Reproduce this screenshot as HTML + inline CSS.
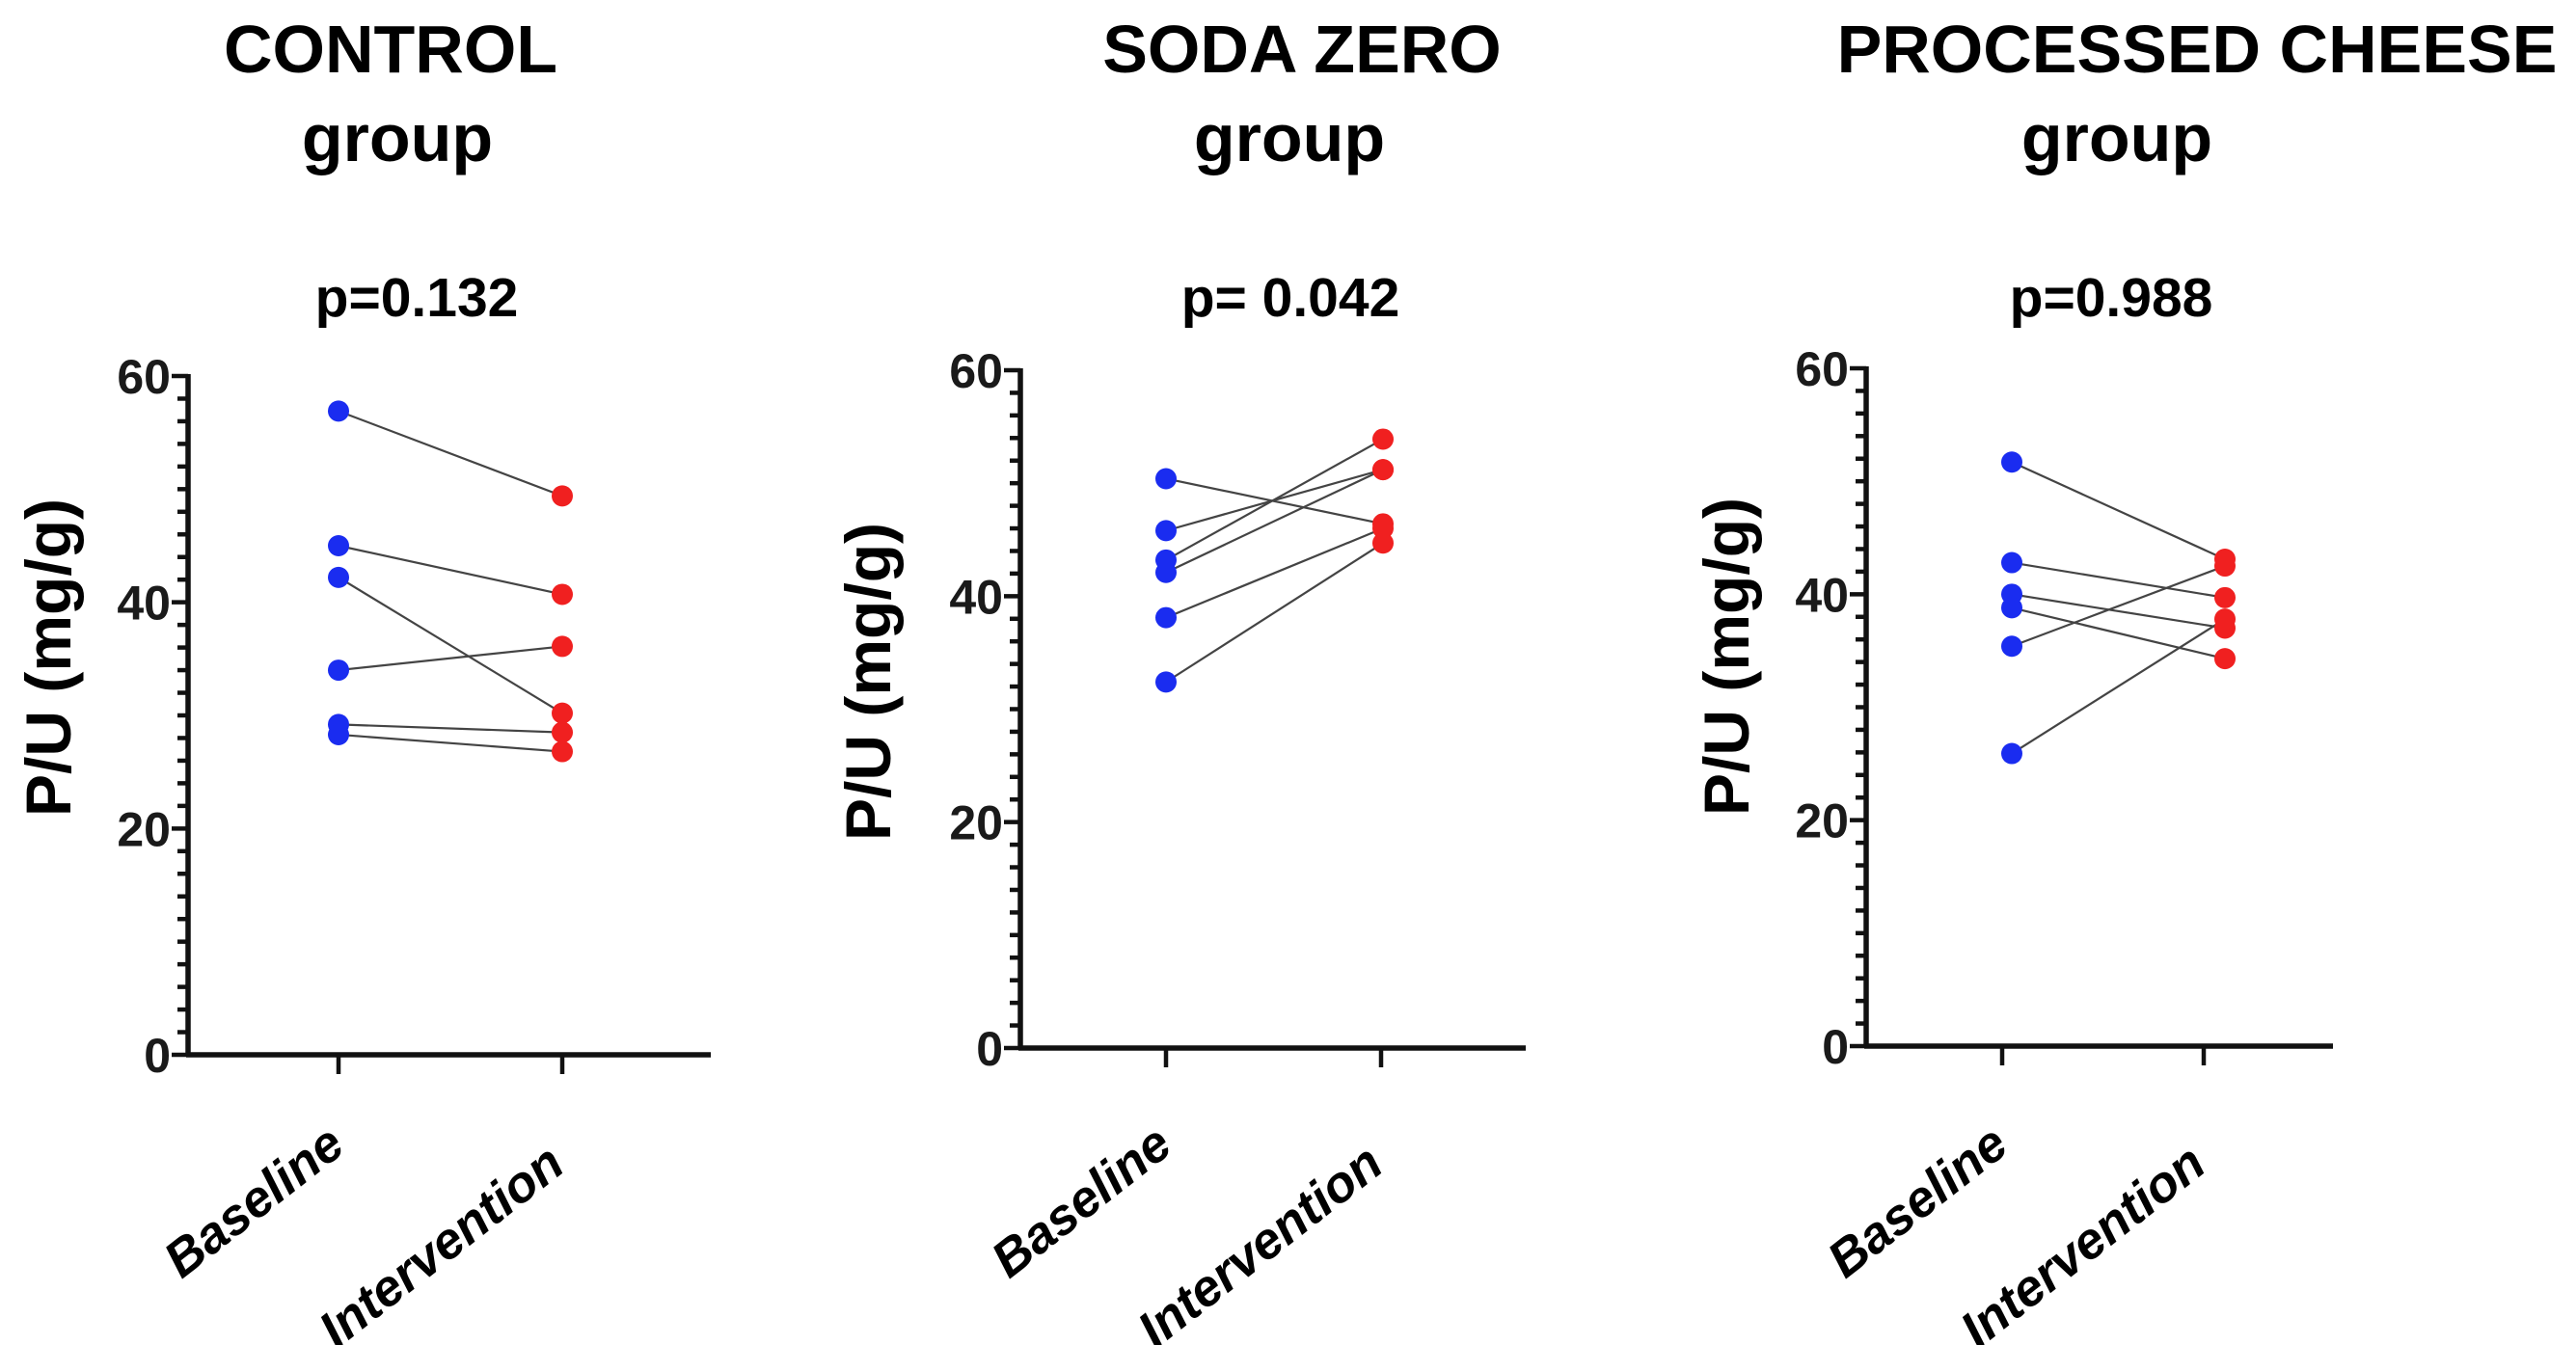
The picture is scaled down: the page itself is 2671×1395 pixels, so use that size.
<!DOCTYPE html>
<html><head><meta charset="utf-8">
<style>
html,body{margin:0;padding:0;background:#fff;}
svg{display:block;}
text{font-family:"Liberation Sans",Arial,sans-serif;}
</style></head>
<body>
<svg id="fig" width="2671" height="1395" viewBox="0 0 2671 1395" xmlns="http://www.w3.org/2000/svg"></svg>
<script>
// ---- data ----
const groups = ["CONTROL", "SODA ZERO", "PROCESSED CHEESE"];
const pValues = ["p=0.132", "p= 0.042", "p=0.988"];
const categories = ["Baseline", "Intervention"];
const yTicks = [0, 20, 40, 60];
const controlBaseline = [56.9, 45.0, 42.2, 34.0, 29.2, 28.3];
const controlIntervention = [49.4, 40.7, 30.2, 36.1, 28.5, 26.8];
const sodaBaseline = [50.4, 45.8, 43.2, 42.1, 38.1, 32.4];
const sodaIntervention = [46.4, 51.2, 53.9, 51.2, 46.0, 44.7];
const cheeseBaseline = [51.7, 42.8, 40.0, 38.8, 35.4, 25.9];
const cheeseIntervention = [43.1, 39.7, 37.0, 34.3, 42.5, 37.8];

// ---- layout ----
const NS = "http://www.w3.org/2000/svg";
const svg = document.getElementById("fig");
const panels = [
  {ax:195, axEnd:737, y0:1094, y60:390, xB:351, xI:583, tB:351, tI:583, titleX:405, groupX:412, pX:432, ylabX:50, ylabY:682, base:controlBaseline, inter:controlIntervention},
  {ax:1058, axEnd:1582, y0:1087, y60:384, xB:1209, xI:1434, tB:1209, tI:1432, titleX:1350, groupX:1337, pX:1338, ylabX:900, ylabY:707, base:sodaBaseline, inter:sodaIntervention},
  {ax:1935, axEnd:2419, y0:1085, y60:382, xB:2086, xI:2307, tB:2076, tI:2285, titleX:2278, groupX:2195, pX:2189, ylabX:1790, ylabY:681, base:cheeseBaseline, inter:cheeseIntervention}
];
function mk(tag, attrs, parent){
  const e = document.createElementNS(NS, tag);
  for (const k in attrs) e.setAttribute(k, attrs[k]);
  (parent||svg).appendChild(e);
  return e;
}

panels.forEach((p, i) => {
  const g = mk("g", {});
  
  
  const yScale = v => p.y0 - (v/60)*(p.y0 - p.y60);

  let t = mk("text", {x:p.titleX, y:75, "text-anchor":"middle", "font-size":70, "font-weight":"bold", fill:"#000"}, g);
  t.textContent = groups[i];
  
  
  t = mk("text", {x:p.groupX, y:167, "text-anchor":"middle", "font-size":70, "font-weight":"bold", fill:"#000"}, g);
  t.textContent = "group";
  
  
  t = mk("text", {x:p.pX, y:328, "text-anchor":"middle", "font-size":57, "font-weight":"bold", fill:"#000"}, g);
  t.textContent = pValues[i];
  
  

  // y axis
  let l = mk("line", {x1:p.ax, y1:p.y60-2, x2:p.ax, y2:p.y0+2, stroke:"#111", "stroke-width":5.5}, g);
  
  
  for (let v = 0; v <= 60; v += 2) {
    const major = v % 20 === 0;
    const m = mk("line", {x1:p.ax - (major?17:11), y1:yScale(v), x2:p.ax, y2:yScale(v), stroke:"#111", "stroke-width":4.5}, g);
    
    
  }
  yTicks.forEach(v => {
    const tl = mk("text", {x:p.ax-18, y:yScale(v)+18, "text-anchor":"end", "font-size":50, "font-weight":"bold", fill:"#1a1a1a"}, g);
    tl.textContent = v;
    
    
  });
  const yl = mk("text", {x:0, y:0, "text-anchor":"middle", "font-size":66, "font-weight":"bold", fill:"#000", transform:`translate(${p.ylabX+23},${p.ylabY}) rotate(-90)`}, g);
  yl.textContent = "P/U (mg/g)";
  
  

  // x axis
  l = mk("line", {x1:p.ax-2, y1:p.y0, x2:p.axEnd, y2:p.y0, stroke:"#111", "stroke-width":5.5}, g);
  
  
  [p.tB, p.tI].forEach((tx, k) => {
    const m = mk("line", {x1:tx, y1:p.y0, x2:tx, y2:p.y0+20, stroke:"#111", "stroke-width":4.5}, g);
    
    
  });
  const labPos = [[p.tB+9, 1193], [p.tI+5, 1213]];
  categories.forEach((c, k) => {
    const xl = mk("text", {x:0, y:0, "text-anchor":"end", "font-size":53, "font-weight":"bold", "font-style":"italic", fill:"#000", transform:`translate(${labPos[k][0]},${labPos[k][1]}) rotate(-38)`}, g);
    xl.textContent = c;
    
    
  });

  // pairs
  p.base.forEach((b, k) => {
    const ln = mk("line", {x1:p.xB, y1:yScale(b), x2:p.xI, y2:yScale(p.inter[k]), stroke:"#444", "stroke-width":2.2}, g);
    
    
  });
  p.base.forEach(b => {
    const c = mk("circle", {cx:p.xB, cy:yScale(b), r:11, fill:"#1a2cf0"}, g);
    
    
  });
  p.inter.forEach(v => {
    const c = mk("circle", {cx:p.xI, cy:yScale(v), r:11, fill:"#f02020"}, g);
    
    
  });
});
</script>
</body></html>
